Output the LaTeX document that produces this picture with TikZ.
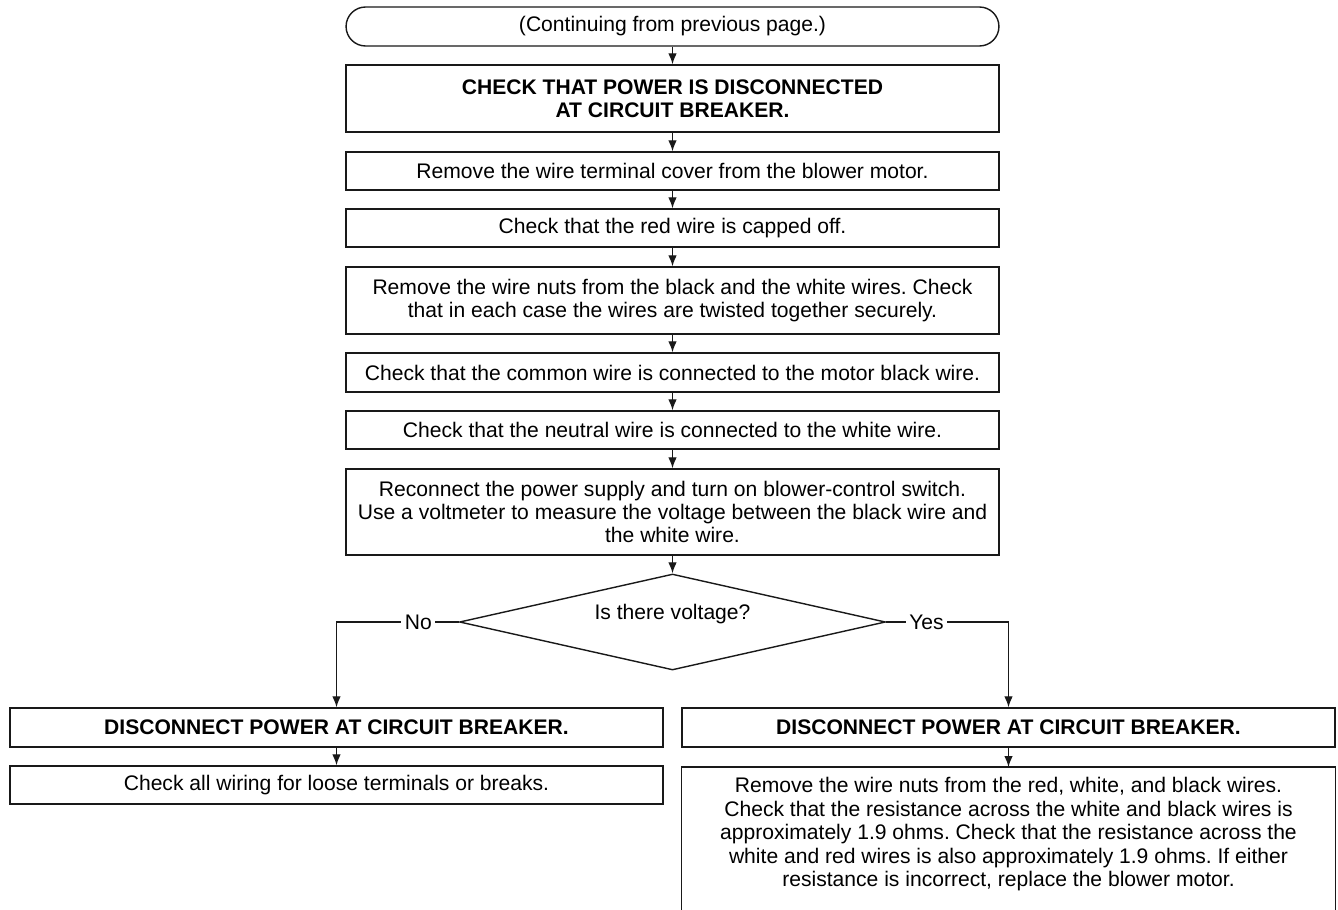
\documentclass[tikz,border=0pt]{standalone}
\usepackage{fontspec}
\setmainfont{Liberation Sans}
\usetikzlibrary{arrows.meta,calc,shapes.geometric,shapes.misc}

\begin{document}
\frenchspacing
\begin{tikzpicture}[x=0.02cm,y=-0.02cm]
% ------------------------------------------------ flow chart styles
\definecolor{fc_line}{RGB}{25,25,25}
\definecolor{fc_text}{RGB}{0,0,0}
\tikzset{
  stepbox/.style={draw=fc_line,line width=0.8pt,rectangle,align=center,
    minimum width=13.06cm,inner sep=0,text=fc_text,font=\fontsize{12}{13.3}\selectfont},
  boldbox/.style={stepbox,font=\fontsize{12}{13.3}\selectfont\bfseries},
  flow/.style={line width=0.7pt,draw=fc_line,>={Latex[length=2.2mm,width=1.7mm]},->},
}
\useasboundingbox (0,0) rectangle (1338,909);

% ------------------------------------------------ main column
\node[stepbox,rounded rectangle,minimum height=0.78cm] (term) at (672.5,26.5) {(Continuing from previous page.)};
\node[boldbox,minimum height=1.34cm] (b1) at (672.5,98.5) {CHECK THAT POWER IS DISCONNECTED\\AT CIRCUIT BREAKER.};
\node[stepbox,minimum height=0.76cm] (b2) at (672.5,171) {Remove the wire terminal cover from the blower motor.};
\node[stepbox,minimum height=0.76cm] (b3) at (672.5,228) {Check that the red wire is capped off.};
\node[stepbox,minimum height=1.34cm] (b4) at (672.5,300.5) {Remove the wire nuts from the black and the white wires. Check\\that in each case the wires are twisted together securely.};
\node[stepbox,minimum height=0.78cm] (b5) at (672.5,372.5) {Check that the common wire is connected to the motor black wire.};
\node[stepbox,minimum height=0.76cm] (b6) at (672.5,430) {Check that the neutral wire is connected to the white wire.};
\node[stepbox,minimum height=1.72cm] (b7) at (672.5,512) {Reconnect the power supply and turn on blower-control switch.\\Use a voltmeter to measure the voltage between the black wire and\\the white wire.};
\node[stepbox,diamond,aspect=4.44,minimum width=8.52cm,minimum height=1.92cm] (dia) at (672.5,622) {\raisebox{0.4cm}{Is there voltage?}};

% ------------------------------------------------ No / Yes branches
\node[boldbox,minimum height=0.78cm] (noA) at (336.5,727.5) {DISCONNECT POWER AT CIRCUIT BREAKER.};
\node[stepbox,minimum height=0.76cm] (noB) at (336.5,785) {Check all wiring for loose terminals or breaks.};
\node[boldbox,minimum height=0.78cm] (yesA) at (1008.5,727.5) {DISCONNECT POWER AT CIRCUIT BREAKER.};
\node[stepbox,draw=none,anchor=north,inner ysep=0.2cm] (yesB) at (1008.5,767) {Remove the wire nuts from the red, white, and black wires.\\Check that the resistance across the white and black wires is\\approximately 1.9 ohms. Check that the resistance across the\\white and red wires is also approximately 1.9 ohms. If either\\resistance is incorrect, replace the blower motor.};
\draw[line width=0.8pt,fc_line] ($(yesB.north west)+(0,170)$) -- (yesB.north west) -- (yesB.north east) -- ($(yesB.north east)+(0,170)$);

% ------------------------------------------------ connectors
\foreach \a/\b in {term/b1,b1/b2,b2/b3,b3/b4,b4/b5,b5/b6,b6/b7,b7/dia,noA/noB,yesA/yesB}
  \draw[flow] (\a.south) -- (\b.north);
\draw[flow] (dia.west) -- node[pos=0.33,fill=white,inner sep=2pt,font=\fontsize{12}{13.3}\selectfont]{No} (noA.north |- dia.west) -- (noA.north);
\draw[flow] (dia.east) -- node[pos=0.33,fill=white,inner sep=2pt,font=\fontsize{12}{13.3}\selectfont]{Yes} (yesA.north |- dia.east) -- (yesA.north);

\end{tikzpicture}
\end{document}
